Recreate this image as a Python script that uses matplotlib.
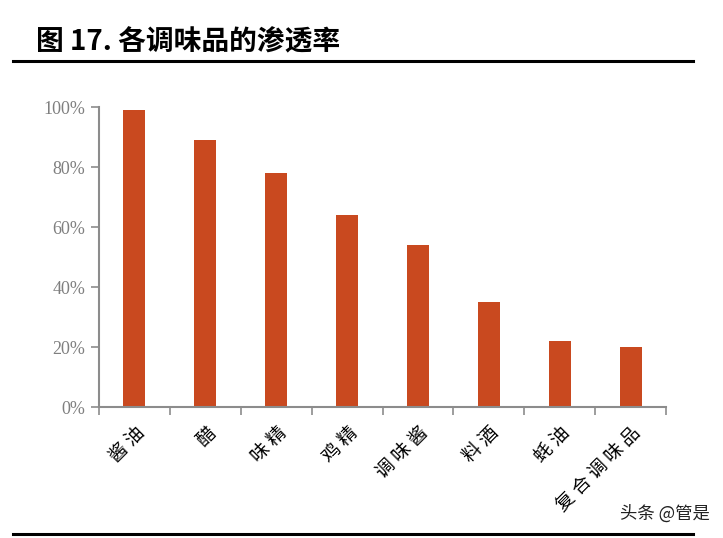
import matplotlib
matplotlib.use("Agg")
import matplotlib.pyplot as plt
from matplotlib.ticker import FuncFormatter

categories = ["酱油", "醋", "味精", "鸡精", "调味酱", "料酒", "蚝油", "复合调味品"]
values = [99, 89, 78, 64, 54, 35, 22, 20]
yticks = [0, 20, 40, 60, 80, 100]
title = "图 17. 各调味品的渗透率"

plt.rcParams['font.family'] = ['Noto Sans CJK SC', 'DejaVu Sans']

W, H = 723, 538
fig = plt.figure(figsize=(W / 100, H / 100), dpi=100)

ax = fig.add_axes([99 / W, 1 - 407 / H, (666 - 99) / W, (407 - 107) / H])
x = list(range(len(categories)))
ax.bar(x, values, width=0.31, color="#C9491F", zorder=2)
ax.set_xlim(-0.5, len(categories) - 0.5)
ax.set_ylim(0, 100)
ax.set_yticks(yticks)
ax.yaxis.set_major_formatter(FuncFormatter(lambda v, p: f"{int(v)}%"))
for lab in ax.get_yticklabels():
    lab.set_family(['Liberation Serif', 'DejaVu Serif'])
    lab.set_fontsize(13)
    lab.set_color("#7f7f7f")
ax.tick_params(axis='y', length=6, width=1.2, color="#8c8c8c", pad=4)

ax.set_xticks([i - 0.5 for i in range(len(categories) + 1)], minor=False)
ax.set_xticklabels([])
ax.tick_params(axis='x', which='major', length=6, width=1.2, color="#8c8c8c", direction='out')
ax.set_xticks(x, minor=True)
spaced = [" ".join(list(c)) for c in categories]
ax.set_xticklabels(spaced, minor=True, rotation=45, ha='right', va='top',
                   rotation_mode='anchor', fontsize=13.5, color="black")
ax.tick_params(axis='x', which='minor', length=0, pad=11)

for s in ['top', 'right']:
    ax.spines[s].set_visible(False)
for s in ['left', 'bottom']:
    ax.spines[s].set_color("#8c8c8c")
    ax.spines[s].set_linewidth(1.5)

fig.text(36 / W, 1 - 42 / H, title, fontsize=20, fontweight='bold', va='center', ha='left', color='black')
fig.add_artist(plt.Line2D([13 / W, 693 / W], [1 - 61 / H, 1 - 61 / H], color='black', lw=2.2))
fig.add_artist(plt.Line2D([13 / W, 693 / W], [1 - 534 / H, 1 - 534 / H], color='black', lw=2.2))
fig.text(710 / W, 1 - 514 / H, "头条 @管是", fontsize=12.5, ha='right', va='center', color='#222222')

fig.savefig("out.png", dpi=100)
